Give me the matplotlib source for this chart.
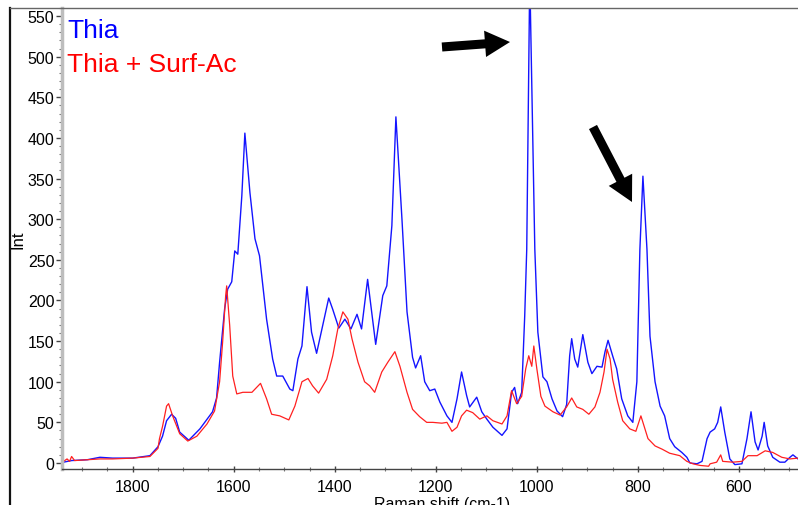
"""
Raman spectra: Thia vs Thia + Surf-Ac
"""

import matplotlib
matplotlib.use('Agg')
import matplotlib.pyplot as plt
from matplotlib.lines import Line2D
from matplotlib.patches import FancyArrowPatch
from matplotlib.ticker import MultipleLocator

plt.rcParams['font.family'] = ['Liberation Sans', 'DejaVu Sans']

# =============================================================================
# DATA
# =============================================================================

# Thia (blue)
thia_shift = [1937, 1921, 1890, 1865, 1840, 1800, 1766, 1750, 1741, 1733, 1723, 1715,
              1707, 1689, 1667, 1642, 1634, 1628, 1618, 1612, 1604, 1598, 1592, 1584,
              1578, 1568, 1558, 1549, 1535, 1523, 1515, 1503, 1489, 1483, 1473, 1465,
              1455, 1446, 1436, 1424, 1412, 1404, 1392, 1380, 1368, 1356, 1347, 1335,
              1319, 1305, 1297, 1287, 1279, 1267, 1257, 1246, 1240, 1230, 1222, 1212,
              1202, 1192, 1178, 1168, 1158, 1149, 1139, 1133, 1119, 1109, 1099, 1087,
              1069, 1059, 1050, 1044, 1038, 1030, 1024, 1020, 1014, 1004, 998, 988,
              980, 970, 960, 949, 941, 935, 931, 925, 919, 909, 899, 891, 881, 871,
              865, 859, 850, 842, 832, 820, 810, 802, 796, 790, 782, 776, 766, 756,
              747, 737, 727, 713, 703, 697, 683, 673, 663, 657, 648, 642, 636, 628,
              618, 608, 594, 584, 576, 568, 562, 554, 550, 543, 533, 519, 509, 499,
              493, 483]
thia_int = [1, 3, 4, 7, 6, 6, 9, 20, 33, 52, 60, 55,
            38, 28, 42, 63, 80, 124, 190, 214, 223, 261, 257, 329,
            406, 333, 276, 255, 177, 128, 107, 107, 91, 89, 128, 144,
            217, 161, 135, 169, 203, 189, 166, 177, 165, 183, 165, 226,
            146, 206, 218, 292, 426, 300, 186, 130, 117, 132, 100, 89,
            91, 75, 58, 50, 79, 112, 83, 69, 81, 63, 54, 44,
            34, 42, 87, 93, 73, 87, 181, 263, 600, 263, 161, 106,
            100, 79, 64, 57, 72, 132, 153, 128, 118, 158, 124, 110, 119, 118,
            137, 151, 132, 116, 79, 58, 50, 100, 263, 353, 263, 156, 100, 70,
            58, 30, 20, 13, 7, 0, -1, 2, 30, 38, 42, 50, 69, 38,
            5, -2, -1, 30, 63, 26, 16, 33, 50, 21, 7, 1, 1, 7,
            10, 5]

# Thia + Surf-Ac (red)
surf_shift = [1937, 1930, 1925, 1921, 1915, 1890, 1865, 1840, 1800, 1766, 1750, 1747,
              1741, 1733, 1729, 1721, 1707, 1691, 1673, 1653, 1638, 1628, 1622, 1616,
              1614, 1608, 1602, 1594, 1582, 1564, 1547, 1535, 1525, 1509, 1491, 1479,
              1465, 1453, 1444, 1432, 1416, 1404, 1394, 1384, 1374, 1366, 1354, 1341,
              1331, 1321, 1307, 1295, 1281, 1271, 1257, 1246, 1232, 1218, 1206, 1188,
              1178, 1168, 1158, 1149, 1139, 1127, 1113, 1099, 1087, 1069, 1059, 1050,
              1040, 1030, 1022, 1016, 1010, 1006, 1000, 992, 984, 968, 954, 941,
              931, 921, 909, 897, 885, 875, 867, 861, 855, 850, 840, 830,
              816, 804, 794, 786, 780, 766, 752, 737, 717, 703, 691, 677,
              660, 657, 644, 636, 632, 612, 594, 582, 564, 548, 533, 515,
              499, 483]
surf_int = [2, 5, 2, 8, 3, 4, 5, 5, 6, 8, 18, 30,
            45, 70, 73, 58, 36, 27, 33, 48, 64, 100, 149, 206,
            218, 169, 107, 85, 87, 87, 98, 79, 60, 58, 53, 70,
            100, 104, 95, 86, 103, 132, 165, 186, 177, 153, 124, 100,
            95, 87, 112, 124, 137, 119, 87, 66, 57, 50, 50, 49,
            50, 39, 44, 58, 65, 62, 54, 58, 52, 48, 58, 89,
            73, 82, 116, 132, 119, 144, 116, 82, 70, 63, 59, 69,
            80, 69, 66, 60, 69, 87, 112, 140, 128, 103, 75, 52,
            42, 39, 58, 42, 30, 21, 17, 12, 9, 2, -1, -3,
            -4, -1, 1, 10, 2, 1, 2, 9, 9, 15, 13, 7,
            5, 6]

x_ticks = [1800, 1600, 1400, 1200, 1000, 800, 600]
y_ticks = list(range(0, 551, 50))

# =============================================================================
# PLOT
# =============================================================================

W, H = 798, 506
fig = plt.figure(figsize=(W/100, H/100), dpi=100)
fig.patch.set_facecolor('white')
ax = fig.add_axes([62/W, 36/H, 1 - 62/W, 461/H])

ax.plot(thia_shift, thia_int, color='#1414ff', lw=1.0)
ax.plot(surf_shift, surf_int, color='#ff2020', lw=0.9)

ax.set_xlim(1940, 483)
ax.set_ylim(-7.4, 560)

ax.set_xticks(x_ticks)
ax.set_yticks(y_ticks)
ax.xaxis.set_minor_locator(MultipleLocator(50))
ax.yaxis.set_minor_locator(MultipleLocator(10))

ax.spines['top'].set_visible(False)
ax.spines['right'].set_visible(False)
ax.spines['left'].set_color('#bdbdbd')
ax.spines['left'].set_linewidth(2.5)
ax.spines['bottom'].set_color('#444444')
ax.spines['bottom'].set_linewidth(1.0)

ax.tick_params(axis='y', which='major', length=4, width=1, color='#444444',
               pad=1.5, labelsize=11.5)
ax.tick_params(axis='y', which='minor', length=2, width=0.8, color='#777777')
ax.tick_params(axis='x', which='major', length=4, width=1, color='#444444',
               direction='inout', pad=5, labelsize=11.5)
ax.tick_params(axis='x', which='minor', length=3, width=0.8, color='#777777',
               direction='inout')

# window frame
fig.add_artist(Line2D([10/W, 10/W], [0, 1 - 9/H], transform=fig.transFigure,
                      color='#111111', lw=1.6))
fig.add_artist(Line2D([10/W, 1], [1 - 9/H, 1 - 9/H], transform=fig.transFigure,
                      color='#666666', lw=1.0))

# labels
fig.text(18/W, 1 - 240/H, 'Int', rotation=90, ha='center', va='center', fontsize=12)
fig.text(442/W, -3/H, 'Raman shift (cm-1)', ha='center', va='baseline', fontsize=11.5)

# legend text
fig.text(67/W, 1 - 38/H, 'Thia', color='#0000ff', fontsize=19, va='baseline')
fig.text(67/W, 1 - 72/H, 'Thia + Surf-Ac', color='#ff0000', fontsize=19, va='baseline')

# arrows
style = 'simple,head_width=19,head_length=18,tail_width=6.5'
for tail, tip in [((442, 48), (510, 43)), ((593, 128), (632, 203))]:
    arr = FancyArrowPatch((tail[0]/W, 1 - tail[1]/H), (tip[0]/W, 1 - tip[1]/H),
                          transform=fig.transFigure, arrowstyle=style,
                          mutation_scale=1, shrinkA=0, shrinkB=0,
                          facecolor='black', edgecolor='none')
    fig.add_artist(arr)

fig.savefig('out.png', dpi=100)
